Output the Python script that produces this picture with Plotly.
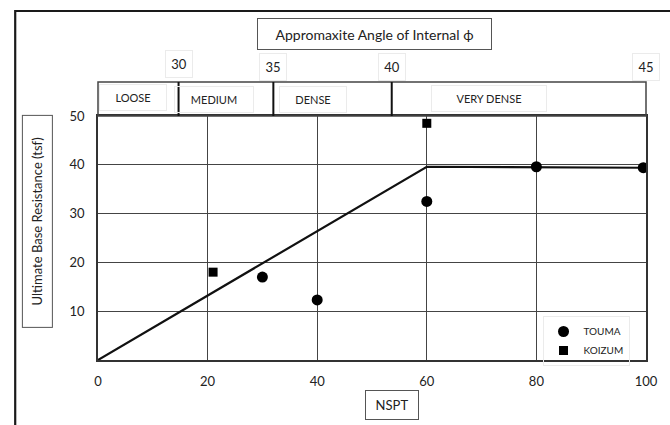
import plotly.graph_objects as go

# ---------------- data ----------------
touma_nspt = [30, 40, 60, 80, 99.5]
touma_qb = [17, 12.3, 32.5, 39.6, 39.4]
koizum_nspt = [21, 60]
koizum_qb = [18, 48.5]
trend_nspt = [0, 60, 99.5]
trend_qb = [0, 39.6, 39.4]
x_ticks = [0, 20, 40, 60, 80, 100]
y_ticks = [10, 20, 30, 40, 50]
phi_angles = ["30", "35", "40", "45"]
phi_nspt = [14.7, 32, 53.6, 100]
density_classes = ["LOOSE", "MEDIUM", "DENSE", "VERY DENSE"]

# ---------------- layout helpers ----------------
W, H = 670, 425
L, R, T, B = 98, 654, 116, 360


def px(x):
    return (x - L) / (R - L)


def py(y):
    return (B - y) / (B - T)


FONT = "Lato, 'Open Sans', sans-serif"
INK = "#222222"
FAINT = "#ebebeb"

fig = go.Figure()

fig.add_trace(go.Scatter(
    x=trend_nspt, y=trend_qb, mode="lines",
    line=dict(color="#111111", width=2.2), showlegend=False, hoverinfo="skip"))
fig.add_trace(go.Scatter(
    x=touma_nspt, y=touma_qb, mode="markers", name="TOUMA",
    marker=dict(symbol="circle", size=11, color="#000000")))
fig.add_trace(go.Scatter(
    x=koizum_nspt, y=koizum_qb, mode="markers", name="KOIZUM",
    marker=dict(symbol="square", size=9, color="#000000")))

shapes = []
# outer frame (clipped by the page on right / bottom)
shapes.append(dict(type="rect", xref="paper", yref="paper",
                   x0=px(14), x1=px(720), y0=py(470), y1=py(11),
                   line=dict(color="#1a1a1a", width=2.2), layer="below"))
# density band
shapes.append(dict(type="rect", xref="paper", yref="paper",
                   x0=0, x1=1, y0=1, y1=py(82),
                   line=dict(color="#444444", width=1.5)))
for v in phi_nspt[:-1]:
    shapes.append(dict(type="line", xref="x", yref="paper",
                       x0=v, x1=v, y0=1, y1=py(82),
                       line=dict(color="#111111", width=2)))

annotations = []
# top title box
annotations.append(dict(
    text="Appromaxite Angle of Internal ϕ", xref="paper", yref="paper",
    x=px(378.5), y=py(34), xanchor="center", yanchor="middle", showarrow=False,
    font=dict(family=FONT, size=14, color=INK),
    bordercolor="#555555", borderwidth=1, borderpad=0, width=233, height=30))
# angle labels
angle_y = [64, 67, 67, 67]
for a, v, yy in zip(phi_angles, phi_nspt, angle_y):
    annotations.append(dict(
        text=a, xref="x", yref="paper", x=v, y=py(yy),
        xanchor="center", yanchor="middle", showarrow=False,
        font=dict(family=FONT, size=13, color=INK),
        bordercolor=FAINT, borderwidth=1, borderpad=0, width=26, height=26))
# density class labels
class_x = [134, 216, 316, 495]
class_w = [66, 78, 66, 114]
class_y = [97, 99, 99, 98]
for c, cx, cw, cy in zip(density_classes, class_x, class_w, class_y):
    annotations.append(dict(
        text=c, xref="paper", yref="paper", x=px(cx), y=py(cy),
        xanchor="center", yanchor="middle", showarrow=False,
        font=dict(family=FONT, size=11, color=INK),
        bordercolor=FAINT, borderwidth=1, borderpad=0, width=cw, height=25))
# axis titles in boxes
annotations.append(dict(
    text="Ultimate Base Resistance (tsf)", xref="paper", yref="paper",
    x=px(36.5), y=py(221.5), xanchor="center", yanchor="middle", showarrow=False,
    textangle=-90, font=dict(family=FONT, size=13, color=INK),
    bordercolor="#555555", borderwidth=1, borderpad=0, width=211, height=29))
annotations.append(dict(
    text="NSPT", xref="paper", yref="paper",
    x=px(396), y=py(405), xanchor="center", yanchor="middle", showarrow=False,
    font=dict(family=FONT, size=13, color=INK),
    bordercolor="#555555", borderwidth=1, borderpad=0, width=52, height=28))

fig.update_layout(
    width=W, height=H,
    margin=dict(l=L, r=W - R, t=T, b=H - B),
    paper_bgcolor="white", plot_bgcolor="white",
    font=dict(family=FONT, size=13, color=INK),
    shapes=shapes, annotations=annotations,
    showlegend=True,
    legend=dict(x=px(549), y=py(316), xanchor="left", yanchor="top",
                bgcolor="rgba(255,255,255,0)", bordercolor=FAINT, borderwidth=1,
                font=dict(family=FONT, size=10, color=INK),
                itemsizing="trace", tracegroupgap=0),
)
fig.update_xaxes(
    range=[0, 100], tickvals=x_ticks, showgrid=True,
    gridcolor="#444444", gridwidth=1.2, zeroline=False,
    showline=True, linecolor="#333333", linewidth=1.6, mirror=True,
    ticks="outside", ticklen=9, tickcolor="rgba(0,0,0,0)",
    tickfont=dict(family=FONT, size=13, color=INK), fixedrange=True)
fig.update_yaxes(
    range=[0, 50], tickvals=y_ticks, showgrid=True,
    gridcolor="#444444", gridwidth=1.2, zeroline=False,
    showline=True, linecolor="#333333", linewidth=1.6, mirror=True,
    ticks="outside", ticklen=9, tickcolor="rgba(0,0,0,0)",
    tickfont=dict(family=FONT, size=13, color=INK), fixedrange=True)

fig.write_html(
    "out.html",
    config={"displayModeBar": False},
    post_script="document.body.style.margin='0px';document.body.style.overflow='hidden';",
)
